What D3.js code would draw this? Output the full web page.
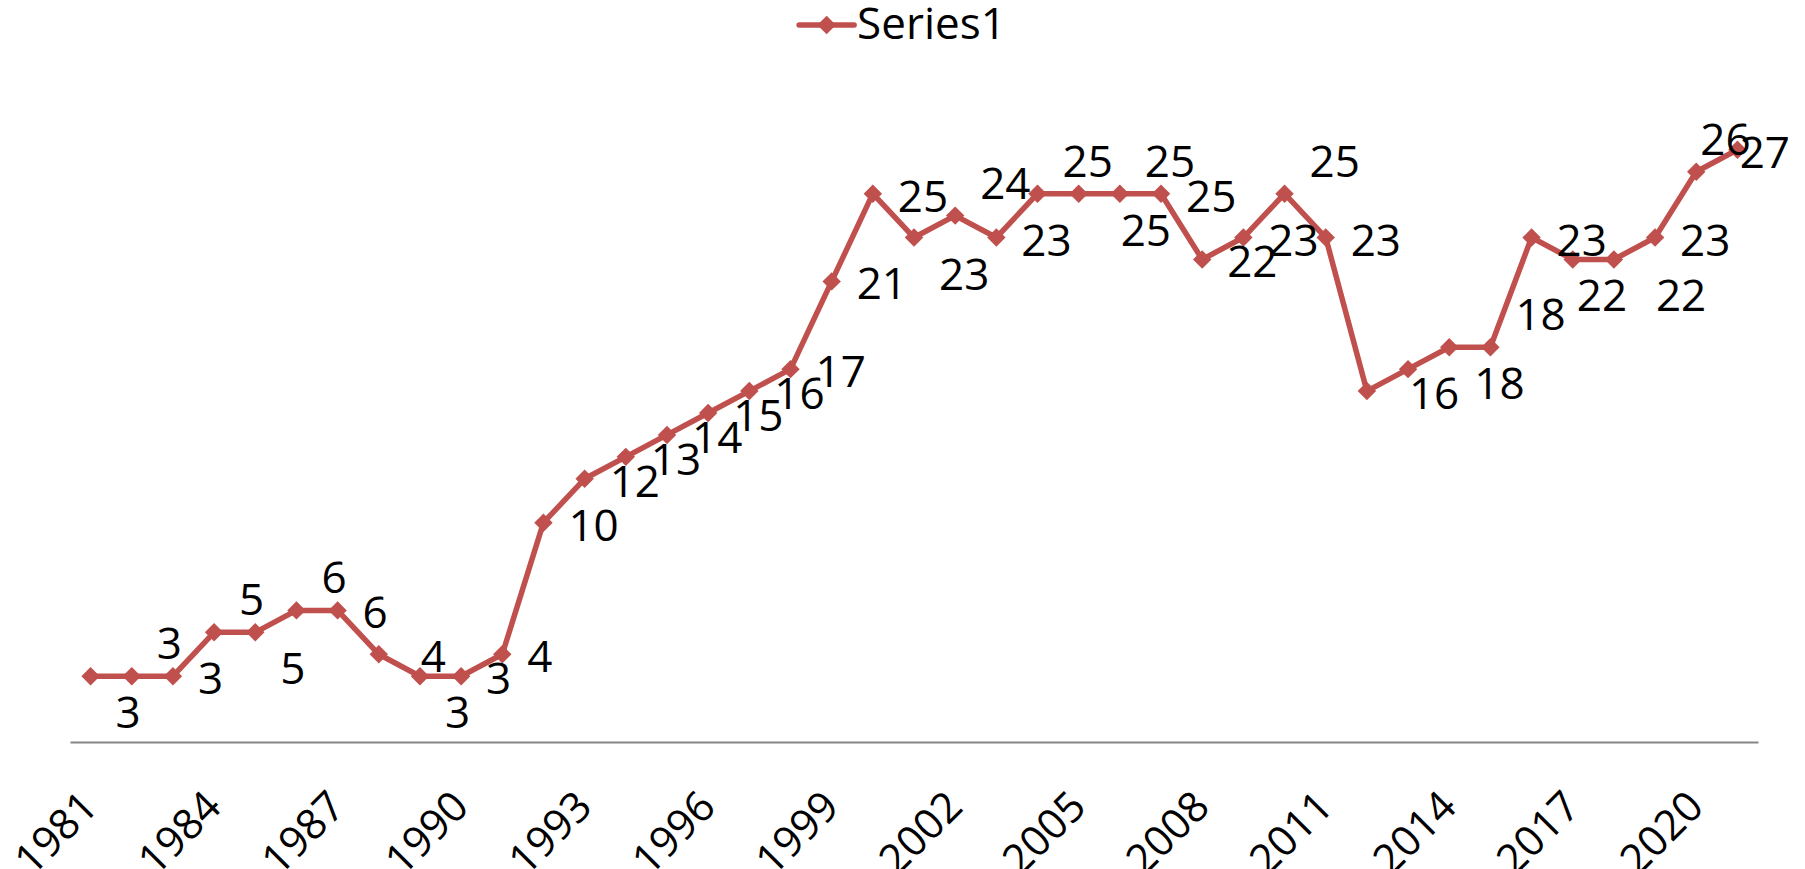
<!DOCTYPE html>
<html>
<head>
<meta charset="utf-8">
<script src="https://cdn.jsdelivr.net/npm/d3@7/dist/d3.min.js"></script>
<style>
  html, body { margin: 0; padding: 0; background: #fff; }
  svg { display: block; font-family: 'Open Sans', sans-serif; }
</style>
</head>
<body>
<svg id="chart"></svg>
<script>
// categories and values
const years = [
  '1981', '1982', '1983', '1984', '1985', '1986', '1987', '1988', '1989', '1990',
  '1991', '1992', '1993', '1994', '1995', '1996', '1997', '1998', '1999', '2000',
  '2001', '2002', '2003', '2004', '2005', '2006', '2007', '2008', '2009', '2010',
  '2011', '2012', '2013', '2014', '2015', '2016', '2017', '2018', '2019', '2020',
  '2021',
];
const values = [
  3, 3, 3, 5, 5, 6, 6, 4, 3, 3,
  4, 10, 12, 13, 14, 15, 16, 17, 21, 25,
  23, 24, 23, 25, 25, 25, 25, 22, 23, 25,
  23, 16, 17, 18, 18, 23, 22, 22, 23, 26,
  27,
];
// data label spot: r = right, a = above right, b = below right; n / f = nearer / farther; '' = none
const labelSpots = [
  'b', 'a', 'r', 'a', 'b', 'a', 'r', 'rf', 'b', 'r',
  'r', 'r', 'r', 'r', 'r', 'r', 'r', 'r', 'r', 'r',
  'b', 'a', 'r', 'a', 'bf', 'a', 'r', 'r', 'r', 'a',
  'r', 'rf', '', 'b', 'a', 'r', 'bn', 'bf', 'r', 'an',
  'r',
];
const tickYears = ['1981', '1984', '1987', '1990', '1993', '1996', '1999', '2002', '2005', '2008', '2011', '2014', '2017', '2020'];
const seriesName = 'Series1';
const yMax = 30;

const width = 1805;
const height = 869;
const plot = { left: 70, right: 1758, top: 84, bottom: 742 };
const red = '#C0504D';
const fontSize = 44;

const points = years.map((year, i) => ({ year, value: values[i], spot: labelSpots[i] }));

const svg = d3.select('#chart')
  .attr('width', width)
  .attr('height', height)
  .attr('viewBox', `0 0 ${width} ${height}`);

const x = d3.scalePoint()
  .domain(years)
  .range([plot.left, plot.right])
  .padding(0.5);

const y = d3.scaleLinear()
  .domain([0, yMax])
  .range([plot.bottom, plot.top]);

// category axis, labels turned up to the right
svg.append('g')
  .attr('transform', `translate(0, ${y(0)})`)
  .call(d3.axisBottom(x).tickValues(tickYears).tickSize(0).tickSizeOuter(0))
  .call((g) => g.select('.domain').attr('stroke', '#868686').attr('stroke-width', 2))
  .call((g) => g.selectAll('.tick text')
    .attr('x', 0)
    .attr('y', 0)
    .attr('dy', 0)
    .attr('fill', '#000')
    .attr('font-size', 42)
    .attr('font-family', "'Open Sans', sans-serif")
    .attr('text-anchor', 'end')
    .attr('transform', 'translate(9, 67) rotate(-45)'));

const line = d3.line()
  .x((d) => x(d.year))
  .y((d) => y(d.value));

svg.append('path')
  .datum(points)
  .attr('fill', 'none')
  .attr('stroke', red)
  .attr('stroke-width', 5.5)
  .attr('stroke-linejoin', 'round')
  .attr('d', line);

const diamond = d3.symbol(d3.symbolSquare, 170);

svg.append('g')
  .selectAll('path')
  .data(points)
  .join('path')
  .attr('d', diamond)
  .attr('fill', red)
  .attr('transform', (d) => `translate(${x(d.year)}, ${y(d.value)}) rotate(45)`);

// data labels
const spotDy = { r: 18, a: -17, b: 52 };
const spotDx = { n: 4, s: 25, f: 42 };
const labels = svg.append('g')
  .attr('font-size', fontSize)
  .attr('fill', '#000')
  .selectAll('text')
  .data(points.filter((d) => d.spot))
  .join('text')
  .attr('x', (d) => x(d.year) + spotDx[d.spot[1] || 's'])
  .attr('y', (d) => y(d.value) + spotDy[d.spot[0]])
  .text((d) => d.value);

labels.each(function () {
  const el = d3.select(this);
  const w = this.getComputedTextLength();
  const left = +el.attr('x');
  if (left + w > width - 15) {
    el.attr('x', width - 15 - w);
  }
});

// legend
const legend = svg.append('g');
const legendText = legend.append('text')
  .attr('font-size', fontSize)
  .attr('fill', '#000')
  .attr('y', 39)
  .text(seriesName);
const textWidth = legendText.node().getComputedTextLength();
const legendLeft = (width - (58 + textWidth)) / 2;

legendText.attr('x', legendLeft + 58);
legend.append('line')
  .attr('x1', legendLeft)
  .attr('x2', legendLeft + 55)
  .attr('y1', 25)
  .attr('y2', 25)
  .attr('stroke', red)
  .attr('stroke-width', 5.5)
  .attr('stroke-linecap', 'round');
legend.append('path')
  .attr('d', diamond)
  .attr('fill', red)
  .attr('transform', `translate(${legendLeft + 27.5}, 25) rotate(45)`);
</script>
</body>
</html>
